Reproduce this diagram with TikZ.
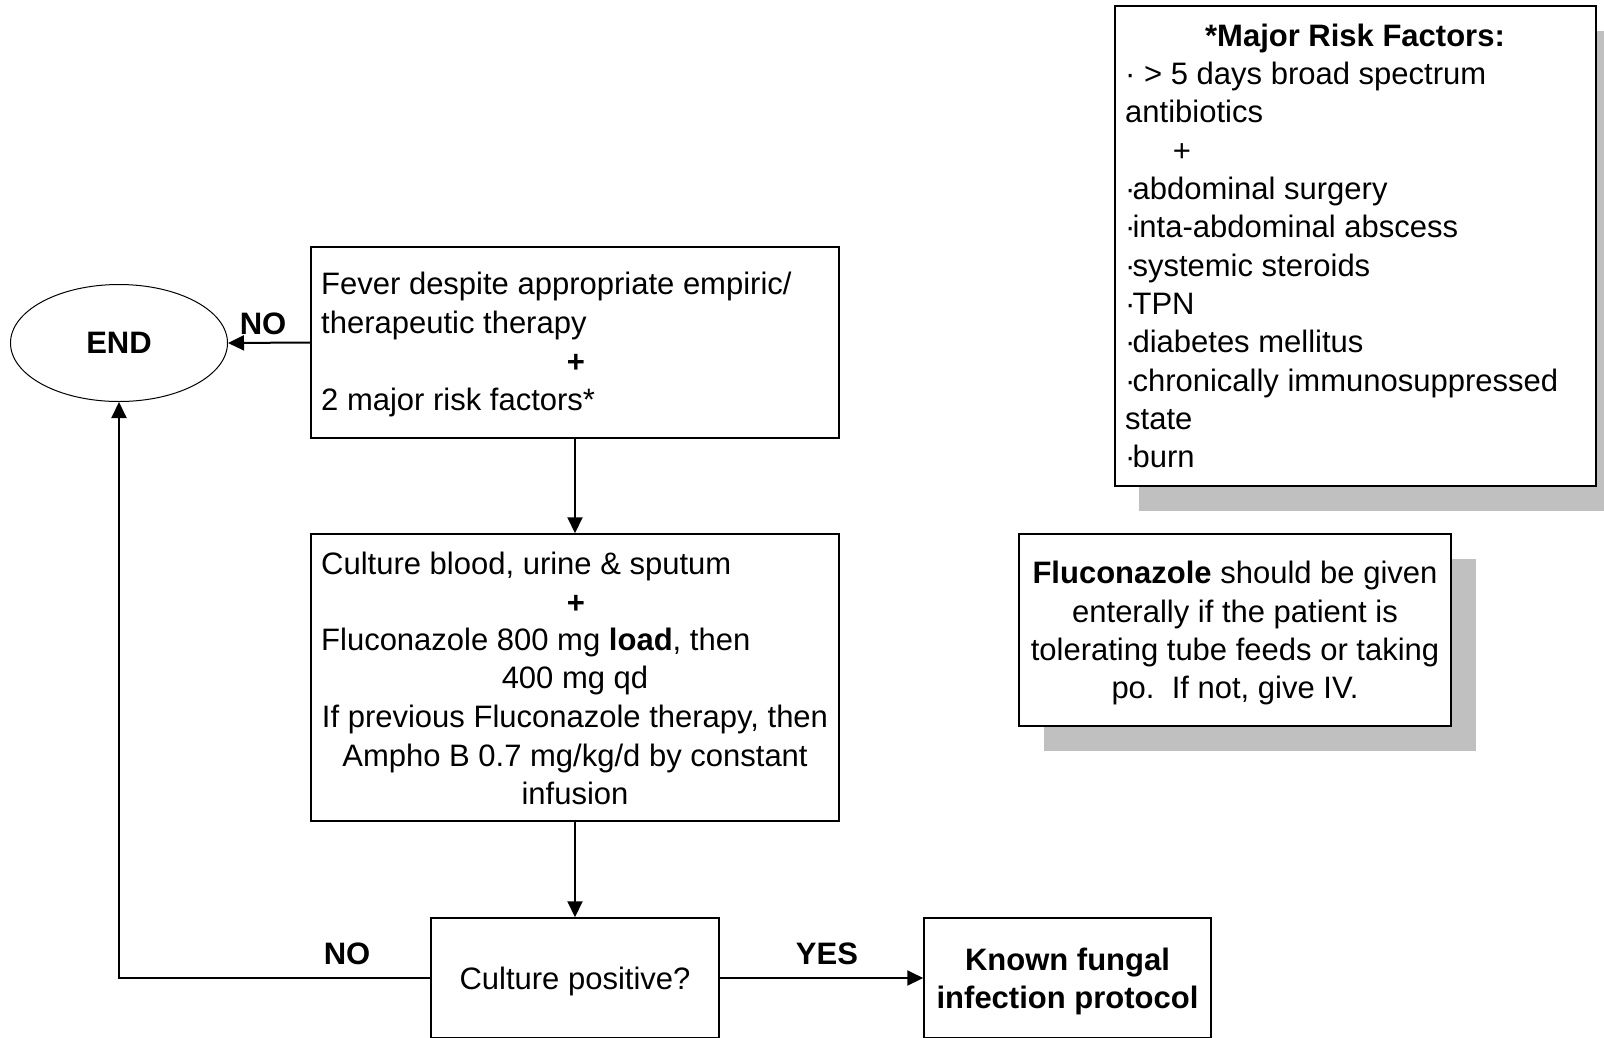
\documentclass[tikz,border=0pt]{standalone}
\usepackage{fontspec}
\setmainfont{Liberation Sans}
\usetikzlibrary{arrows.meta,shapes.geometric}
\definecolor{shadowgray}{HTML}{C0C0C0}
\newcommand{\bdot}{·\kern-3pt}
\begin{document}
\begin{tikzpicture}[x=1pt,y=-1pt,
  box/.style={draw, line width=1.5pt, fill=white, inner sep=0pt, rectangle},
  shadowbox/.style={fill=shadowgray, draw=none, inner sep=0pt, rectangle},
  txt/.style={inner sep=0pt, font=\fontsize{31}{38}\selectfont},
  btxt/.style={inner sep=0pt, font=\fontsize{31}{38}\selectfont\bfseries},
  conn/.style={line width=2pt, -{Triangle[length=16pt,width=15pt]}}]
\path[use as bounding box, fill=white] (0,0) rectangle (1604,1037);
% shadows
\node[shadowbox, minimum width=481pt, minimum height=480pt] (riskshadow) at (1379.5,270.5) {};
\node[shadowbox, minimum width=432pt, minimum height=192pt] (flucshadow) at (1259.5,654.5) {};
% boxes
\node[box, minimum width=481pt, minimum height=480pt] (risk) at (1355.5,246) {};
\node[box, minimum width=432pt, minimum height=192pt] (fluc) at (1235,630) {};
\node[box, minimum width=528pt, minimum height=191pt] (fever) at (575,342.5) {};
\node[box, minimum width=528pt, minimum height=287pt] (culture) at (575,677.5) {};
\node[box, minimum width=288pt, minimum height=120pt] (cpos) at (575,978) {};
\node[box, minimum width=287pt, minimum height=120pt] (kfp) at (1067.5,978) {};
\node[draw, ellipse, line width=1pt, minimum width=217pt, minimum height=117pt, inner sep=0pt, btxt] (endn) at (119,343) {END};
% bottom box texts
\node[txt, anchor=base] (cpt) at (575,989) {Culture positive?};
\node[btxt, anchor=base] (k1) at (1067.5,970) {Known fungal};
\node[btxt, anchor=base] (k2) at (1067.5,1008) {infection protocol};
% fever text
\node[txt, anchor=base west] (f1) at (321,294) {Fever despite appropriate empiric/};
\node[txt, anchor=base west] (f2) at (321,333) {therapeutic therapy};
\node[btxt, anchor=base] (f3) at (576,372) {+};
\node[txt, anchor=base west] (f4) at (321,410) {2 major risk factors*};
% culture text
\node[txt, anchor=base west] (c1) at (321,574) {Culture blood, urine \& sputum};
\node[btxt, anchor=base] (c2) at (576,613) {+};
\node[txt, anchor=base west] (c3) at (321,650) {Fluconazole 800 mg \textbf{load}, then};
\node[txt, anchor=base] (c4) at (575,688) {400 mg qd};
\node[txt, anchor=base] (c5) at (575,727) {If previous Fluconazole therapy, then};
\node[txt, anchor=base] (c6) at (575,766) {Ampho B 0.7 mg/kg/d by constant};
\node[txt, anchor=base] (c7) at (575,804) {infusion};
% risk text
\node[btxt, anchor=base] (r0) at (1355,46) {*Major Risk Factors:};
\node[txt, anchor=base west] (r1) at (1125,84) {· > 5 days broad spectrum};
\node[txt, anchor=base west] (r2) at (1125,122.5) {antibiotics};
\node[txt, anchor=base] (r3) at (1182,161) {+};
\node[txt, anchor=base west] (r4) at (1125,199) {\bdot abdominal surgery};
\node[txt, anchor=base west] (r5) at (1125,237) {\bdot inta-abdominal abscess};
\node[txt, anchor=base west] (r6) at (1125,276) {\bdot systemic steroids};
\node[txt, anchor=base west] (r7) at (1125,314) {\bdot TPN};
\node[txt, anchor=base west] (r8) at (1125,352.5) {\bdot diabetes mellitus};
\node[txt, anchor=base west] (r9) at (1125,391) {\bdot chronically immunosuppressed};
\node[txt, anchor=base west] (r10) at (1125,429) {state};
\node[txt, anchor=base west] (r11) at (1125,467) {\bdot burn};
% fluconazole note
\node[txt, anchor=base] (n1) at (1235,583) {\textbf{Fluconazole} should be given};
\node[txt, anchor=base] (n2) at (1235,622) {enterally if the patient is};
\node[txt, anchor=base] (n3) at (1235,660) {tolerating tube feeds or taking};
\node[txt, anchor=base] (n4) at (1235,698) {po.\ \ If not, give IV.};
% labels
\node[btxt, anchor=base] (no1) at (263,334) {NO};
\node[btxt, anchor=base] (no2) at (347,964) {NO};
\node[btxt, anchor=base] (yes) at (827,964) {YES};
% connectors
\draw[conn] (fever.west) -- (endn.east);
\draw[conn] (fever.south) -- (culture.north);
\draw[conn] (culture.south) -- (cpos.north);
\draw[conn] (cpos.west) -| (endn.south);
\draw[conn] (cpos.east) -- (kfp.west);
\end{tikzpicture}
\end{document}
